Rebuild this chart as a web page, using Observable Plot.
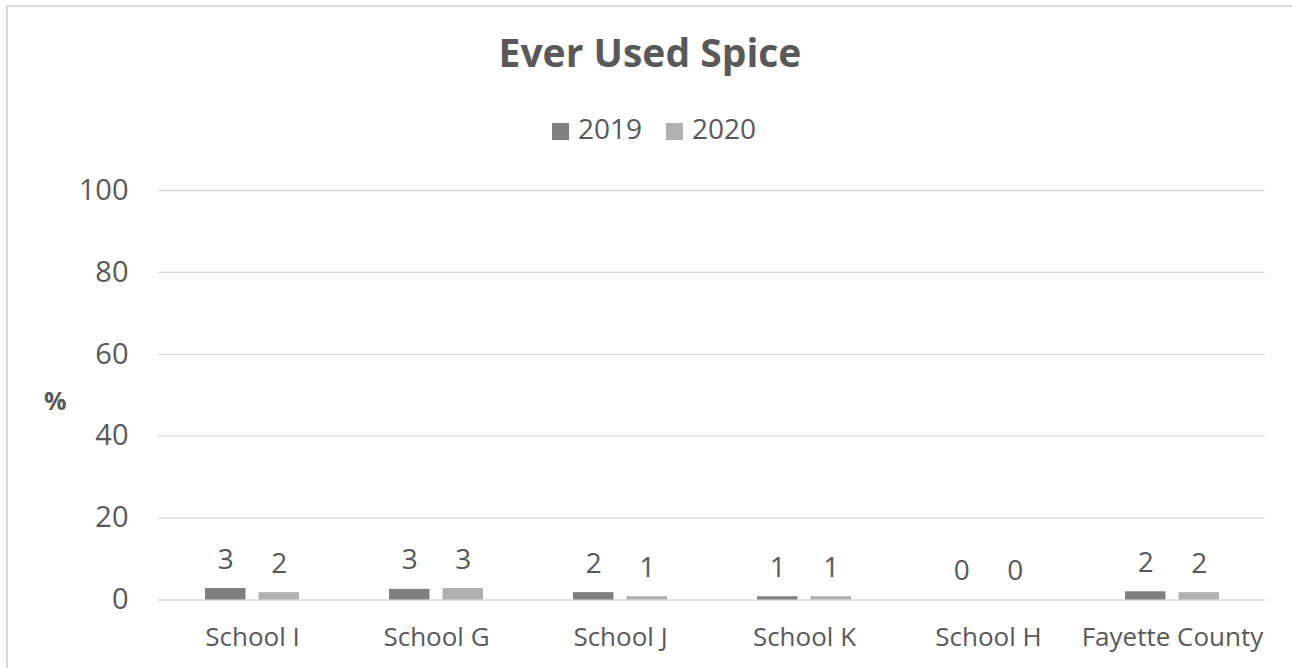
<!DOCTYPE html>
<html>
<head>
<meta charset="utf-8">
<script src="https://cdn.jsdelivr.net/npm/d3@7"></script>
<script src="https://cdn.jsdelivr.net/npm/@observablehq/plot@0.6"></script>
<style>
  html, body { margin: 0; padding: 0; background: #fff; overflow: hidden; }
  body { width: 1292px; height: 668px; position: relative; font-family: "Open Sans", sans-serif; color: #595959; }
  #frame { position: absolute; left: 6px; top: 5px; width: 1300px; height: 700px; border-top: 2px solid #d9d9d9; border-left: 2px solid #d9d9d9; box-sizing: border-box; }
  #title { position: absolute; left: 0; width: 1300px; top: 26px; text-align: center; font-size: 39px; font-weight: 700; line-height: 52px; color: #595959; }
  #legend { position: absolute; left: 0; width: 1308px; top: 109px; display: flex; justify-content: center; align-items: center; font-size: 28px; line-height: 38px; color: #595959; }
  #legend .item { display: flex; align-items: center; margin: 0 12px; }
  #legend .sw { width: 17px; height: 17px; margin-right: 9px; position: relative; top: 3px; }
  #ylabel { position: absolute; left: 44px; top: 382px; font-size: 25px; line-height: 36px; font-weight: 700; color: #595959; }
  #chart { position: absolute; left: 0; top: 150px; }
</style>
</head>
<body>
<div id="frame"></div>
<div id="title"></div>
<div id="legend"></div>
<div id="ylabel"></div>
<div id="chart"></div>
<script>
const titleText = "Ever Used Spice";
const yLabel = "%";
const categories = ["School I", "School G", "School J", "School K", "School H", "Fayette County"];
const seriesNames = ["2019", "2020"];
const values2019 = [2.8, 2.6, 1.8, 0.8, 0, 2.0];
const values2020 = [1.8, 2.8, 0.8, 0.8, 0, 1.8];
const yTicks = [0, 20, 40, 60, 80, 100];
const colors = ["#7f7f7f", "#b0b0b0"];

document.getElementById("title").textContent = titleText;
document.getElementById("ylabel").textContent = yLabel;
const legend = document.getElementById("legend");
seriesNames.forEach((s, i) => {
  const item = document.createElement("div");
  item.className = "item";
  const sw = document.createElement("div");
  sw.className = "sw";
  sw.style.background = colors[i];
  const t = document.createElement("span");
  t.textContent = s;
  item.appendChild(sw); item.appendChild(t);
  legend.appendChild(item);
});

const d19 = categories.map((c, i) => ({category: c, value: values2019[i], series: seriesNames[0]}));
const d20 = categories.map((c, i) => ({category: c, value: values2020[i], series: seriesNames[1]}));
const fmt = d3.format(".0f");

const plot = Plot.plot({
  width: 1292,
  height: 518,
  marginLeft: 158,
  marginRight: 27,
  marginTop: 40,
  marginBottom: 68.5,
  style: {fontFamily: "Open Sans, sans-serif", color: "#595959", background: "transparent", overflow: "visible"},
  x: {domain: categories, padding: 0, label: null},
  y: {domain: [0, 100], ticks: yTicks, label: null},
  marks: [
    Plot.gridY(yTicks, {stroke: "#d9d9d9", strokeOpacity: 1, strokeWidth: 1.3}),
    Plot.barY(d19, {x: "category", y: "value", fill: colors[0], insetLeft: 45, insetRight: 98.5}),
    Plot.barY(d20, {x: "category", y: "value", fill: colors[1], insetLeft: 98.5, insetRight: 45}),
    Plot.text(d19, {x: "category", y: "value", text: d => fmt(d.value), dx: -26.75, dy: -29, fontSize: 28, fill: "#595959"}),
    Plot.text(d20, {x: "category", y: "value", text: d => fmt(d.value), dx: 26.75, dy: -29, fontSize: 28, fill: "#595959"}),
    Plot.axisY({ticks: yTicks, tickSize: 0, tickPadding: 30, fontSize: 29, fill: "#595959", label: null}),
    Plot.axisX({tickSize: 0, tickPadding: 28, fontSize: 26, fill: "#595959", label: null})
  ]
});
document.getElementById("chart").appendChild(plot);
</script>
</body>
</html>
